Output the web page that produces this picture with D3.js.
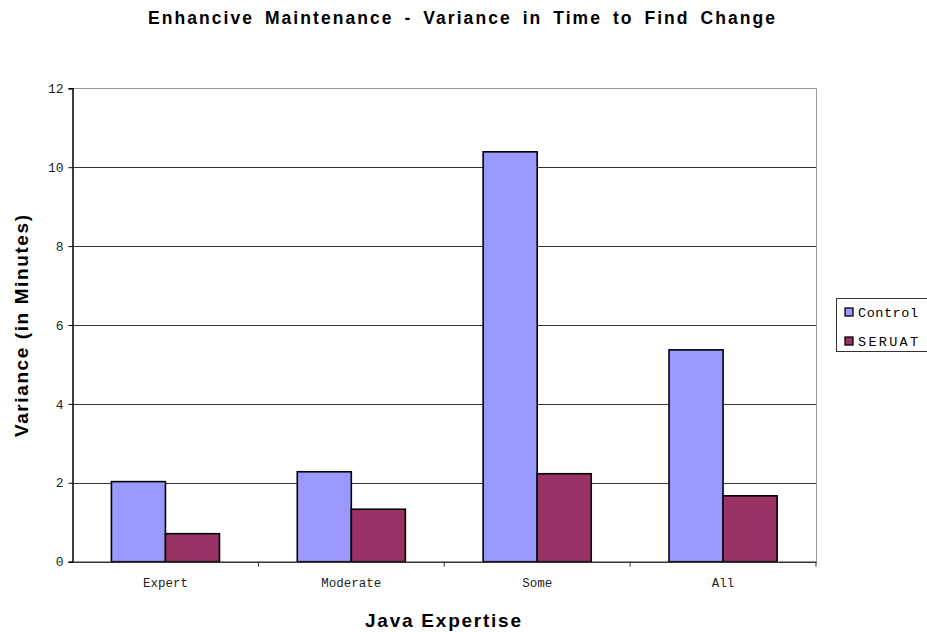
<!DOCTYPE html>
<html>
<head>
<meta charset="utf-8">
<script src="https://cdn.jsdelivr.net/npm/d3@7"></script>
<style>
  body { margin: 0; background: #fff; }
  svg { display: block; }
</style>
</head>
<body>
<script>
// Chart data
const categories = ["Expert", "Moderate", "Some", "All"];
const seriesNames = ["Control", "SERUAT"];
const controlValues = [2.03, 2.28, 10.39, 5.37];
const seruatValues = [0.71, 1.33, 2.23, 1.67];
const yTicks = [0, 2, 4, 6, 8, 10, 12];

const W = 927, H = 632;
const plot = { left: 72.5, right: 816, top: 88.3, bottom: 561.7 };
const colors = { Control: "#9999ff", SERUAT: "#993366" };
const monoFont = "'Liberation Mono', 'Courier New', monospace";
const sansFont = "'Liberation Sans', Arial, sans-serif";

const svg = d3.select("body").append("svg")
  .attr("width", W).attr("height", H);

const x0 = d3.scaleBand().domain(categories)
  .range([plot.left, plot.right]).padding(0);
const x1 = d3.scaleBand().domain(seriesNames)
  .range([0, x0.bandwidth()]).paddingInner(0).paddingOuter(0.72);
const y = d3.scaleLinear().domain([0, 12]).range([plot.bottom, plot.top]);

// Horizontal gridlines
svg.append("g").selectAll("line").data(yTicks.filter(d => d > 0)).join("line")
  .attr("x1", plot.left).attr("x2", plot.right)
  .attr("y1", d => Math.round(y(d)) + 0.5).attr("y2", d => Math.round(y(d)) + 0.5)
  .attr("stroke", d => d === 12 ? "#999" : "#333").attr("stroke-width", 1);

// Right border of plot area
svg.append("line")
  .attr("x1", plot.right + 0.5).attr("x2", plot.right + 0.5)
  .attr("y1", plot.top).attr("y2", plot.bottom)
  .attr("stroke", "#999");

// Bars
const rows = categories.map((c, i) => ({ cat: c, vals: [
  { s: "Control", v: controlValues[i] },
  { s: "SERUAT", v: seruatValues[i] }
]}));
const groups = svg.append("g").selectAll("g").data(rows).join("g")
  .attr("transform", d => `translate(${x0(d.cat)},0)`);
groups.selectAll("rect").data(d => d.vals).join("rect")
  .attr("x", d => x1(d.s))
  .attr("y", d => y(d.v))
  .attr("width", x1.bandwidth())
  .attr("height", d => y(0) - y(d.v))
  .attr("fill", d => colors[d.s])
  .attr("stroke", "#000").attr("stroke-width", 1.6);

// Y axis
const yAxis = d3.axisLeft(y).tickValues(yTicks).tickSize(4).tickPadding(5)
  .tickFormat(d3.format("d"));
const yg = svg.append("g").attr("transform", `translate(${plot.left},0)`).call(yAxis);
yg.select(".domain").attr("stroke", "#000").attr("stroke-width", 1.5);
yg.selectAll(".tick line").attr("stroke", "#000");
yg.selectAll(".tick text").attr("font-family", monoFont).attr("font-size", 13).attr("fill", "#222");

// X axis
const xAxis = d3.axisBottom(x0).tickSize(0).tickPadding(16);
const xg = svg.append("g").attr("transform", `translate(0,${plot.bottom})`).call(xAxis);
xg.select(".domain").attr("stroke", "#333").attr("stroke-width", 1.5);
xg.selectAll(".tick text").attr("font-family", monoFont).attr("font-size", 12.5).attr("fill", "#222");
// Category boundary ticks
xg.append("g").selectAll("line").data(categories.slice(1).concat(["__end"])).join("line")
  .attr("x1", d => d === "__end" ? plot.right : x0(d))
  .attr("x2", d => d === "__end" ? plot.right : x0(d))
  .attr("y1", 0).attr("y2", 5)
  .attr("stroke", "#333");

// Titles
svg.append("text").attr("x", 148).attr("y", 24)
  .attr("font-family", sansFont).attr("font-weight", "bold").attr("font-size", 17.5)
  .style("word-spacing", "4px")
  .attr("textLength", 627).attr("lengthAdjust", "spacing")
  .text("Enhancive Maintenance - Variance in Time to Find Change");
svg.append("text").attr("x", 365).attr("y", 627)
  .attr("font-family", sansFont).attr("font-weight", "bold").attr("font-size", 19)
  .attr("textLength", 156).attr("lengthAdjust", "spacing")
  .text("Java Expertise");
svg.append("text").attr("transform", "translate(28,437) rotate(-90)")
  .attr("font-family", sansFont).attr("font-weight", "bold").attr("font-size", 19)
  .attr("textLength", 222).attr("lengthAdjust", "spacing")
  .text("Variance (in Minutes)");

// Legend
const lg = svg.append("g");
lg.append("rect").attr("x", 836.5).attr("y", 298.5).attr("width", 95).attr("height", 53)
  .attr("fill", "#fff").attr("stroke", "#333");
seriesNames.forEach((s, i) => {
  const cy = 312 + i * 29;
  lg.append("rect").attr("x", 845).attr("y", cy - 4).attr("width", 8).attr("height", 8)
    .attr("fill", colors[s]).attr("stroke", "#000").attr("stroke-width", 1.3);
  lg.append("text").attr("x", 858).attr("y", cy + 4.5)
    .attr("font-family", monoFont).attr("font-size", 13.5)
    .attr("textLength", 60).attr("lengthAdjust", "spacing")
    .text(s);
});
</script>
</body>
</html>
